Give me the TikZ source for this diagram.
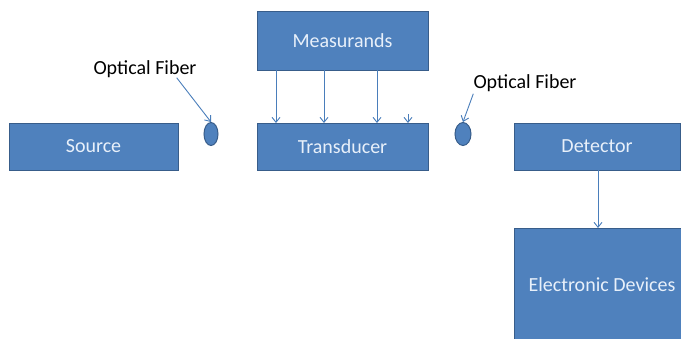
\documentclass[tikz,border=0pt]{standalone}
\usepackage{fontspec}
\setmainfont{Carlito}
\usetikzlibrary{positioning,shapes.geometric,arrows.meta}

\definecolor{boxblue}{RGB}{79,129,189}
\definecolor{edgeblue}{RGB}{56,93,138}
\definecolor{arrowblue}{RGB}{74,126,187}
\definecolor{boxtext}{RGB}{232,240,250}

\begin{document}
\begin{tikzpicture}[x=1pt,y=-1pt,
	blockbox/.style={rectangle,fill=boxblue,draw=edgeblue,line width=1pt,inner sep=0pt,outer sep=0pt,
		text=boxtext,font=\fontsize{20}{24}\selectfont,minimum height=47pt},
	fibernode/.style={ellipse,fill=boxblue,draw=edgeblue,line width=1pt,inner sep=0pt,minimum width=14pt,minimum height=23pt},
	fiberlabel/.style={inner sep=0pt,font=\fontsize{20}{24}\selectfont},
	arr/.style={draw=arrowblue,line width=0.9pt,-{Straight Barb[length=5pt,width=8pt]}}]
		\useasboundingbox (0,0) rectangle (681,338);
		\clip (0,0) rectangle (681,338);

		\node[blockbox,minimum width=171pt,minimum height=59pt] 	(meas)	at (342.5,40.5) {Measurands};
		\node[blockbox,minimum width=171pt,below=53pt of meas] 	(trans)	{Transducer};
		\node[blockbox,minimum width=169pt,left=79pt of trans] 	(src)	{Source};
		\node[blockbox,minimum width=166pt,right=86pt of trans] 	(det)	{Detector};
		\node[blockbox,minimum width=176pt,minimum height=114pt] 	(elec)	at (602,285) {Electronic Devices};

		\node[fibernode] 	(fib1)	at (211,134) {};
		\node[fibernode,minimum width=16pt] 	(fib2)	at (463,134) {};

		\node[fiberlabel] 	(lab1)	at (145,69) {Optical Fiber};
		\node[fiberlabel] 	(lab2)	at (525,83) {Optical Fiber};

		\coordinate (tip) at (408,114);

		\draw[arr] (meas.south -| 276,0) -- (trans.north -| 276,0);
		\draw[arr] (meas.south -| 324,0) -- (trans.north -| 324,0);
		\draw[arr] (meas.south -| 377,0) -- (trans.north -| 377,0);
		\draw[arr] (tip) -- (trans.north -| tip);
		\draw[arr] (det.south -| 598,0) -- (elec.north -| 598,0);
		\draw[arr] ([xshift=-20pt]lab1.south east) -- (fib1.north);
		\draw[arr] ([yshift=-2pt]lab2.south west) -- (fib2.north);
	\end{tikzpicture}
\end{document}
